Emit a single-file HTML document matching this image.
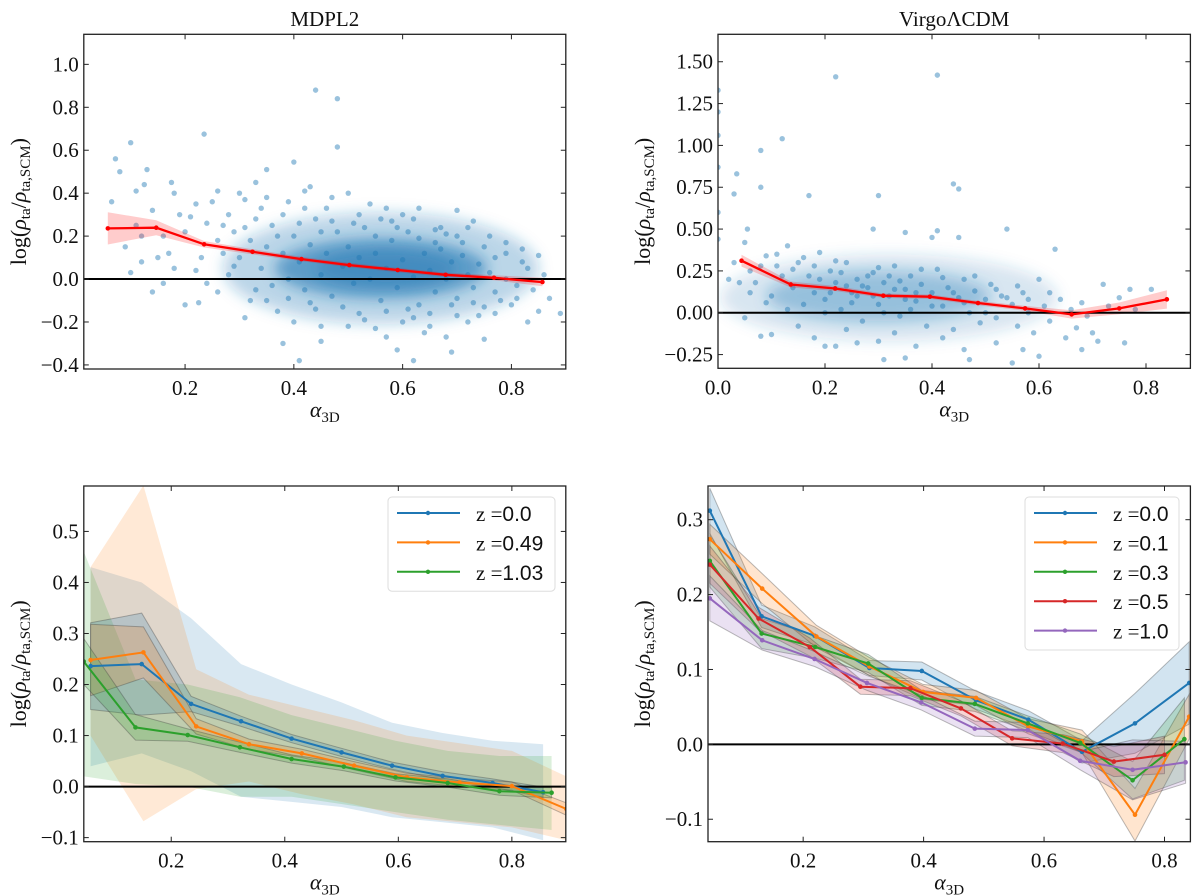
<!DOCTYPE html>
<html><head><meta charset="utf-8">
<style>
html,body{margin:0;padding:0;background:#fff;}
svg{display:block;}
text{font-family:"Liberation Serif","DejaVu Serif",serif;}
</style></head>
<body>
<svg id="fig" width="1200" height="895" viewBox="0 0 1200 895" xmlns="http://www.w3.org/2000/svg">
<defs>
<filter id="blur" x="-50%" y="-50%" width="200%" height="200%"><feGaussianBlur stdDeviation="7"/></filter>
</defs>
</svg>
<script>
// ---------- DATA ----------
const aX = [0.058,0.147,0.235,0.324,0.414,0.502,0.591,0.679,0.768,0.857];
const aY = [0.236,0.239,0.162,0.127,0.093,0.065,0.042,0.020,0.006,-0.014];
const aErr = [0.075,0.035,0.015,0.012,0.01,0.01,0.01,0.01,0.012,0.02];
const aScatter = [
0.065,0.36, 0.072,0.56, 0.08,0.50, 0.10,0.635, 0.11,0.41, 0.13,0.51, 0.125,0.44, 0.09,0.15, 0.10,0.03, 0.14,-0.06,
0.15,0.10, 0.16,-0.02, 0.175,0.45, 0.18,0.40, 0.235,0.675, 0.20,-0.12, 0.225,-0.11, 0.31,-0.18, 0.35,0.51, 0.40,0.545,
0.44,0.88, 0.48,0.84, 0.48,0.615, 0.38,-0.30, 0.41,-0.38, 0.45,-0.29, 0.59,-0.33, 0.62,-0.38, 0.69,-0.34, 0.75,-0.28,
0.89,-0.16, 0.87,-0.09, 0.70,0.32, 0.73,0.27, 0.63,0.33, 0.57,0.33, 0.43,0.43, 0.42,0.41, 0.30,0.40, 0.31,0.37,
0.26,0.41, 0.25,0.36, 0.33,0.45, 0.85,0.11, 0.82,0.14, 0.79,0.17, 0.76,0.20, 0.83,-0.20, 0.85,-0.15, 0.66,0.23,
0.68,0.21, 0.54,0.35, 0.52,0.30, 0.20,0.22, 0.21,0.29, 0.22,0.35, 0.18,0.05, 0.16,0.20, 0.12,0.20, 0.26,-0.06,
0.28,0.02, 0.24,-0.02, 0.27,0.12, 0.29,0.22, 0.33,-0.05, 0.35,-0.10, 0.37,-0.15, 0.40,-0.20, 0.50,-0.22, 0.55,-0.23,
0.60,-0.20, 0.65,-0.22, 0.70,-0.17, 0.72,-0.20, 0.78,-0.10, 0.80,-0.12, 0.83,0.05, 0.86,0.02, 0.81,-0.03, 0.77,0.10,
0.30,0.10, 0.32,0.18, 0.34,0.05, 0.36,0.25, 0.38,0.12, 0.39,0.00, 0.40,0.20, 0.41,0.08, 0.42,-0.05, 0.43,0.16,
0.44,0.28, 0.45,0.02, 0.46,0.12, 0.47,-0.08, 0.48,0.22, 0.49,0.06, 0.50,0.15, 0.51,-0.02, 0.52,0.10, 0.53,0.24,
0.54,0.00, 0.55,0.12, 0.56,-0.10, 0.57,0.05, 0.58,0.18, 0.59,-0.04, 0.60,0.09, 0.61,0.22, 0.62,0.01, 0.63,-0.12,
0.64,0.12, 0.65,0.04, 0.66,-0.06, 0.67,0.14, 0.68,0.00, 0.69,0.08, 0.70,-0.09, 0.71,0.11, 0.72,0.02, 0.73,-0.04,
0.74,0.07, 0.75,-0.13, 0.76,0.03, 0.77,-0.06, 0.36,-0.03, 0.38,0.30, 0.44,-0.14, 0.46,0.33, 0.52,-0.16, 0.58,0.27,
0.62,-0.18, 0.66,0.17, 0.70,0.20, 0.74,-0.17, 0.33,0.28, 0.29,0.06, 0.27,0.25, 0.35,0.15, 0.47,0.38, 0.56,0.28,
0.60,0.30, 0.42,0.33, 0.50,0.40, 0.64,-0.25, 0.57,-0.27, 0.45,-0.22, 0.68,-0.27, 0.79,0.00, 0.82,0.08, 0.84,-0.05,
0.31,0.24, 0.32,-0.10, 0.34,0.33, 0.37,0.20, 0.39,-0.09, 0.41,0.26, 0.43,-0.11, 0.45,0.22, 0.47,0.27, 0.49,-0.13,
0.51,0.26, 0.53,-0.19, 0.55,0.20, 0.57,-0.15, 0.59,0.24, 0.61,-0.14, 0.63,0.19, 0.65,-0.16, 0.67,0.24, 0.69,-0.12,
0.71,0.17, 0.73,-0.11, 0.75,0.15, 0.77,-0.16, 0.79,0.12, 0.81,-0.09, 0.28,0.30, 0.26,0.18, 0.24,0.26, 0.23,0.10,
0.22,0.04, 0.19,0.30, 0.17,0.12, 0.14,0.32, 0.12,0.08, 0.11,0.25, 0.35,0.38, 0.39,0.36, 0.62,0.28, 0.72,0.24
];
const bX = [0.044,0.136,0.219,0.309,0.396,0.486,0.574,0.661,0.750,0.839];
const bY = [0.311,0.169,0.145,0.102,0.096,0.058,0.026,-0.010,0.026,0.080];
const bErr = [0.035,0.018,0.015,0.013,0.013,0.013,0.015,0.025,0.035,0.055];
const bScatter = [
0.22,1.41, 0.41,1.42, 0.12,1.04, 0.08,0.97, 0.035,0.83, 0.03,0.71, 0.08,0.75, 0.17,0.70, 0.30,0.70, 0.44,0.77,
0.45,0.74, 0.055,0.50, 0.29,0.50, 0.35,0.48, 0.40,0.45, 0.41,0.49, 0.45,0.45, 0.54,0.50, 0.63,0.38, 0.0,1.33,
0.0,1.20, 0.0,1.06, 0.0,0.87, 0.0,0.60, 0.0,0.44, 0.22,-0.20, 0.20,-0.20, 0.30,-0.17, 0.31,-0.28, 0.35,-0.27,
0.47,-0.28, 0.55,-0.30, 0.60,-0.26, 0.68,-0.22, 0.71,-0.17, 0.76,-0.18, 0.72,0.17, 0.77,0.14, 0.81,0.14, 0.75,0.09,
0.10,-0.13, 0.08,-0.14, 0.05,-0.03, 0.02,0.20, 0.03,0.30, 0.05,0.42, 0.06,0.25, 0.07,0.18, 0.09,0.34, 0.10,0.10,
0.11,0.28, 0.12,0.22, 0.13,0.40, 0.14,0.15, 0.15,0.30, 0.16,0.05, 0.17,0.22, 0.18,0.12, 0.19,0.36, 0.20,0.08,
0.21,0.25, 0.22,0.18, 0.23,0.02, 0.24,0.30, 0.25,0.12, 0.26,0.20, 0.27,-0.05, 0.28,0.15, 0.29,0.24, 0.30,0.05,
0.31,0.18, 0.32,0.10, 0.33,0.28, 0.34,-0.02, 0.35,0.14, 0.36,0.22, 0.37,0.07, 0.38,0.17, 0.39,-0.08, 0.40,0.12,
0.41,0.26, 0.42,0.04, 0.43,0.15, 0.44,-0.10, 0.45,0.09, 0.46,0.20, 0.47,0.00, 0.48,0.13, 0.49,-0.06, 0.50,0.08,
0.51,0.17, 0.52,-0.03, 0.53,0.10, 0.55,0.05, 0.56,-0.08, 0.57,0.12, 0.58,0.00, 0.59,-0.12, 0.60,0.20, 0.61,0.04,
0.62,-0.05, 0.64,0.08, 0.65,-0.15, 0.66,0.02, 0.67,-0.09, 0.68,0.06, 0.69,-0.02, 0.70,-0.12, 0.73,0.04, 0.78,0.02,
0.15,-0.08, 0.18,-0.15, 0.24,-0.10, 0.26,-0.18, 0.33,-0.12, 0.37,-0.20, 0.42,-0.15, 0.46,-0.22, 0.52,-0.18, 0.57,-0.22,
0.19,0.20, 0.21,0.12, 0.23,0.24, 0.25,0.06, 0.27,0.16, 0.29,0.10, 0.31,0.00, 0.33,0.14, 0.35,0.08, 0.37,0.12,
0.04,0.18, 0.06,0.12, 0.08,0.28, 0.09,0.06, 0.11,0.35, 0.13,0.02, 0.14,0.26, 0.16,0.33, 0.18,0.28, 0.20,0.00,
0.22,0.31, 0.24,0.16, 0.26,0.10, 0.28,0.22, 0.30,0.27, 0.32,0.22, 0.34,0.19, 0.36,0.02, 0.38,0.26, 0.40,0.04,
0.42,0.21, 0.44,0.12, 0.46,0.06, 0.48,0.22, 0.50,0.00, 0.52,0.14, 0.54,0.09, 0.56,0.16, 0.58,0.08, 0.62,0.12
];
const cLabels = ["z =0.0","z =0.49","z =1.03"];
const cX0 = [0.058,0.148,0.235,0.323,0.412,0.500,0.589,0.678,0.766,0.855];
const cY0 = [0.236,0.240,0.162,0.128,0.094,0.067,0.041,0.021,0.007,-0.011];
const cX1 = [0.058,0.151,0.244,0.337,0.430,0.522,0.615,0.708,0.800,0.896];
const cY1 = [0.248,0.263,0.118,0.083,0.065,0.041,0.018,0.008,0.001,-0.044];
const cX2 = [0.046,0.137,0.229,0.321,0.412,0.504,0.595,0.687,0.778,0.870];
const cY2 = [0.245,0.116,0.101,0.077,0.054,0.039,0.018,0.007,-0.009,-0.012];
const cHi0 = [0.43,0.40,0.33,0.24,0.20,0.165,0.125,0.105,0.09,0.083];
const cLo0 = [0.04,0.065,0.03,-0.02,-0.03,-0.04,-0.06,-0.07,-0.08,-0.105];
const cHi1 = [0.43,0.59,0.23,0.18,0.155,0.13,0.10,0.085,0.07,0.02];
const cLo1 = [0.10,-0.068,-0.005,0.01,-0.015,-0.035,-0.06,-0.07,-0.08,-0.105];
const cHi2 = [0.46,0.21,0.20,0.175,0.14,0.115,0.09,0.07,0.06,0.06];
const cLo2 = [0.02,0.005,0.0,-0.02,-0.02,-0.035,-0.05,-0.065,-0.075,-0.085];
const cErr0 = [0.085,0.10,0.015,0.01,0.008,0.008,0.007,0.008,0.008,0.01];
const cErr1 = [0.07,0.05,0.015,0.01,0.008,0.008,0.008,0.008,0.008,0.012];
const cErr2 = [0.045,0.025,0.012,0.01,0.008,0.008,0.007,0.008,0.008,0.01];
const dLabels = ["z =0.0","z =0.1","z =0.3","z =0.5","z =1.0"];
const dX0 = [0.045,0.131,0.219,0.310,0.397,0.487,0.574,0.663,0.751,0.841];
const dY0 = [0.312,0.171,0.145,0.102,0.098,0.059,0.033,-0.010,0.028,0.082];
const dX1 = [0.045,0.132,0.222,0.310,0.399,0.487,0.574,0.663,0.751,0.841];
const dY1 = [0.274,0.208,0.144,0.104,0.070,0.062,0.024,0.004,-0.094,0.037];
const dX2 = [0.045,0.131,0.220,0.308,0.397,0.485,0.573,0.660,0.747,0.833];
const dY2 = [0.245,0.148,0.130,0.108,0.062,0.054,0.028,0.002,-0.048,0.007];
const dX3 = [0.045,0.126,0.211,0.295,0.378,0.462,0.547,0.631,0.716,0.800];
const dY3 = [0.240,0.168,0.130,0.077,0.075,0.048,0.008,0.001,-0.023,-0.014];
const dX4 = [0.045,0.132,0.219,0.306,0.396,0.485,0.573,0.660,0.747,0.835];
const dY4 = [0.195,0.139,0.114,0.082,0.056,0.021,0.019,-0.022,-0.034,-0.024];
const dErr0 = [0.03,0.015,0.012,0.01,0.012,0.012,0.012,0.015,0.04,0.055];
const dErr1 = [0.02,0.02,0.015,0.012,0.01,0.01,0.01,0.015,0.035,0.03];
const dErr2 = [0.035,0.02,0.015,0.012,0.01,0.01,0.01,0.012,0.025,0.055];
const dErr3 = [0.025,0.015,0.012,0.01,0.01,0.01,0.01,0.012,0.02,0.025];
const dErr4 = [0.03,0.013,0.01,0.01,0.01,0.01,0.01,0.012,0.04,0.028];
const aXt = [0.2,0.4,0.6,0.8], aYt = [-0.4,-0.2,0.0,0.2,0.4,0.6,0.8,1.0];
const bXt = [0.0,0.2,0.4,0.6,0.8], bYt = [-0.25,0,0.25,0.5,0.75,1.0,1.25,1.5];
const cXt = [0.2,0.4,0.6,0.8], cYt = [-0.1,0,0.1,0.2,0.3,0.4,0.5];
const dXt = [0.2,0.4,0.6,0.8], dYt = [-0.1,0,0.1,0.2,0.3];

// ---------- DRAWING ----------
const NS = "http://www.w3.org/2000/svg";
const svg = document.getElementById('fig');
function mk(tag, attrs, parent){
  const e = document.createElementNS(NS, tag);
  for (const k in attrs) e.setAttribute(k, attrs[k]);
  (parent||svg).appendChild(e);
  return e;
}
function makePanel(id, box, xr, yr){
  const g = mk('g', {});
  
  
  const clipId = 'clip-' + id;
  const cp = mk('clipPath', {id: clipId}, svg.querySelector('defs'));
  mk('rect', {x: box.x0, y: box.y0, width: box.x1-box.x0, height: box.y1-box.y0}, cp);
  const plot = mk('g', {'clip-path': 'url(#' + clipId + ')'}, g);
  
  
  const sx = v => box.x0 + (v - xr[0]) / (xr[1] - xr[0]) * (box.x1 - box.x0);
  const sy = v => box.y1 - (v - yr[0]) / (yr[1] - yr[0]) * (box.y1 - box.y0);
  return {g, plot, sx, sy, box};
}
function fmt(v, d){ const s = Math.abs(v).toFixed(d); return (v < 0 ? '\u2212' : '') + s; }
function axes(P, xt, xd, yt, yd, ylabelX, title){
  const {g, sx, sy, box} = P;
  const frame = mk('rect', {x: box.x0, y: box.y0, width: box.x1-box.x0, height: box.y1-box.y0, fill: 'none', stroke: '#222', 'stroke-width': 1.3}, g);
  
  
  xt.forEach(v => {
    const x = sx(v);
    mk('line', {x1: x, x2: x, y1: box.y1, y2: box.y1-5, stroke: '#222', 'stroke-width': 1}, g);
    mk('line', {x1: x, x2: x, y1: box.y0, y2: box.y0+5, stroke: '#222', 'stroke-width': 1}, g);
    const t = mk('text', {x: x, y: box.y1 + 26, 'text-anchor': 'middle', 'font-size': 21, fill: '#111'}, g);
    t.textContent = fmt(v, xd);
    
    
  });
  yt.forEach(v => {
    const y = sy(v);
    mk('line', {x1: box.x0, x2: box.x0+5, y1: y, y2: y, stroke: '#222', 'stroke-width': 1}, g);
    mk('line', {x1: box.x1, x2: box.x1-5, y1: y, y2: y, stroke: '#222', 'stroke-width': 1}, g);
    const t = mk('text', {x: box.x0 - 5, y: y + 7, 'text-anchor': 'end', 'font-size': 21, fill: '#111'}, g);
    t.textContent = fmt(v, yd);
    
    
  });
  const xl = mk('text', {x: (box.x0+box.x1)/2, y: box.y1 + 48, 'text-anchor': 'middle', 'font-size': 22, fill: '#111'}, g);
  xl.innerHTML = '<tspan font-style="italic">α</tspan><tspan font-size="15" dy="5">3D</tspan>';
  
  
  const cy = (box.y0+box.y1)/2;
  const yl = mk('text', {x: 0, y: 0, 'text-anchor': 'middle', 'font-size': 22, fill: '#111', transform: 'translate(' + ylabelX + ',' + cy + ') rotate(-90)'}, g);
  yl.innerHTML = 'log(<tspan font-style="italic">ρ</tspan><tspan font-size="15" dy="4">ta</tspan><tspan dy="-4">/</tspan><tspan font-style="italic">ρ</tspan><tspan font-size="15" dy="4">ta,SCM</tspan><tspan dy="-4">)</tspan>';
  
  
  if (title){
    const tt = mk('text', {x: (box.x0+box.x1)/2, y: 26, 'text-anchor': 'middle', 'font-size': 21, fill: '#111'}, g);
    tt.textContent = title;
    
    
  }
}
function zeroLine(P){
  const l = mk('line', {x1: P.box.x0, x2: P.box.x1, y1: P.sy(0), y2: P.sy(0), stroke: '#000', 'stroke-width': 2}, P.plot);
  
  
}
function band(P, xs, hi, lo, color, op, name, edge){
  let d = '';
  xs.forEach((x,i) => { d += (i ? 'L' : 'M') + P.sx(x).toFixed(1) + ',' + P.sy(hi[i]).toFixed(1); });
  for (let i = xs.length-1; i >= 0; i--) d += 'L' + P.sx(xs[i]).toFixed(1) + ',' + P.sy(lo[i]).toFixed(1);
  d += 'Z';
  const p = mk('path', {d: d, fill: color, 'fill-opacity': op, stroke: edge ? 'rgba(60,60,60,0.35)' : 'none', 'stroke-width': 1}, P.plot);
  
  
}
function errBand(P, xs, ys, err, color, op, name, edge){
  band(P, xs, ys.map((y,i) => y + err[i]), ys.map((y,i) => y - err[i]), color, op, name, edge);
}
function series(P, xs, ys, color, name, w){
  const pts = xs.map((x,i) => P.sx(x).toFixed(1) + ',' + P.sy(ys[i]).toFixed(1)).join(' ');
  const pl = mk('polyline', {points: pts, fill: 'none', stroke: color, 'stroke-width': w || 2}, P.plot);
  
  
  xs.forEach((x,i) => {
    const c = mk('circle', {cx: P.sx(x), cy: P.sy(ys[i]), r: 2.3, fill: color}, P.plot);
    
    
  });
}
function scatter(P, arr, name){
  for (let i = 0; i < arr.length; i += 2){
    const c = mk('circle', {cx: P.sx(arr[i]), cy: P.sy(arr[i+1]), r: 2.7, fill: '#1f77b4', 'fill-opacity': 0.45}, P.plot);
    
    
  }
}
function density(P, cx, cy, x0, x1, y0, y1, op){
  const e = mk('ellipse', {cx: P.sx(cx), cy: P.sy(cy), rx: (P.sx(x1)-P.sx(x0))/2, ry: (P.sy(y0)-P.sy(y1))/2, fill: '#1f77b4', 'fill-opacity': op, filter: 'url(#blur)'}, P.plot);
  
  
}
function legend(P, x, y, w, labels, colors){
  const g = mk('g', {}, P.g);
  
  
  const h = labels.length * 29.4 + 6;
  mk('rect', {x: x, y: y, width: w, height: h, rx: 4, fill: '#fff', 'fill-opacity': 0.85, stroke: '#ddd', 'stroke-width': 1}, g);
  labels.forEach((lab,i) => {
    const yy = y + 16 + i * 29.4;
    const e = mk('g', {}, g);
    
    
    mk('line', {x1: x + 9, x2: x + 72, y1: yy, y2: yy, stroke: colors[i], 'stroke-width': 2}, e);
    mk('circle', {cx: x + 40, cy: yy, r: 2.2, fill: colors[i]}, e);
    const parts = lab.split('=');
    const t = mk('text', {x: x + 88, y: yy + 8, 'font-size': 21, fill: '#111'}, e);
    t.innerHTML = parts[0] + '=<tspan font-family="Liberation Sans, DejaVu Sans, sans-serif">' + parts[1] + '</tspan>';
  });
}
const C = ['#1f77b4','#ff7f0e','#2ca02c','#d62728','#9467bd'];

// Panel A
const A = makePanel('mdpl2', {x0: 83.8, x1: 565.8, y0: 34.3, y1: 369}, [0.0138, 0.90], [-0.419, 1.14]);
density(A, 0.56, 0.05, 0.27, 0.85, -0.22, 0.30, 0.3);
density(A, 0.56, 0.05, 0.37, 0.76, -0.09, 0.19, 0.6);
density(A, 0.57, 0.05, 0.44, 0.70, -0.04, 0.13, 0.45);
scatter(A, aScatter, 'mdpl2-scatter-point');
errBand(A, aX, aY, aErr, '#ff0000', 0.2, 'mdpl2-median-band');
zeroLine(A);
series(A, aX, aY, '#ff0000', 'mdpl2-median', 2.3);
axes(A, aXt, 1, aYt, 1, 26, 'MDPL2');

// Panel B
const B = makePanel('virgo', {x0: 718, x1: 1190.4, y0: 34.3, y1: 368.3}, [0.0, 0.883], [-0.332, 1.664]);
density(B, 0.32, 0.09, 0.02, 0.65, -0.18, 0.34, 0.18);
density(B, 0.30, 0.10, 0.10, 0.52, -0.05, 0.25, 0.35);
scatter(B, bScatter, 'virgo-scatter-point');
errBand(B, bX, bY, bErr, '#ff0000', 0.2, 'virgo-median-band');
zeroLine(B);
series(B, bX, bY, '#ff0000', 'virgo-median', 2.3);
axes(B, bXt, 1, bYt, 2, 650, 'Virgo\u039bCDM');

// Panel C
const Cp = makePanel('mdpl2-z', {x0: 83.8, x1: 565.8, y0: 486, y1: 841.7}, [0.046, 0.895], [-0.108, 0.589]);
band(Cp, cX0, cHi0, cLo0, C[0], 0.17, 'z0-spread-band');
band(Cp, cX1, cHi1, cLo1, C[1], 0.17, 'z049-spread-band');
band(Cp, cX2, cHi2, cLo2, C[2], 0.17, 'z103-spread-band');
errBand(Cp, cX0, cY0, cErr0, C[0], 0.2, 'z0-error-band', true);
errBand(Cp, cX1, cY1, cErr1, C[1], 0.2, 'z049-error-band', true);
errBand(Cp, cX2, cY2, cErr2, C[2], 0.2, 'z103-error-band', true);
zeroLine(Cp);
series(Cp, cX0, cY0, C[0], 'z0');
series(Cp, cX1, cY1, C[1], 'z049');
series(Cp, cX2, cY2, C[2], 'z103');
axes(Cp, cXt, 1, cYt, 1, 26, null);
legend(Cp, 388, 497, 167, cLabels, C);

// Panel D
const D = makePanel('virgo-z', {x0: 708, x1: 1190.4, y0: 486, y1: 841.7}, [0.042, 0.843], [-0.130, 0.345]);
const dXs = [dX0,dX1,dX2,dX3,dX4], dYs = [dY0,dY1,dY2,dY3,dY4], dEs = [dErr0,dErr1,dErr2,dErr3,dErr4];
const dNames = ['z00','z01','z03','z05','z10'];
dXs.forEach((xs,i) => errBand(D, xs, dYs[i], dEs[i], C[i], 0.2, dNames[i] + '-error-band', true));
zeroLine(D);
dXs.forEach((xs,i) => series(D, xs, dYs[i], C[i], dNames[i]));
axes(D, dXt, 1, dYt, 1, 650, null);
legend(D, 1025, 497, 154, dLabels, C);
</script>
</body></html>
